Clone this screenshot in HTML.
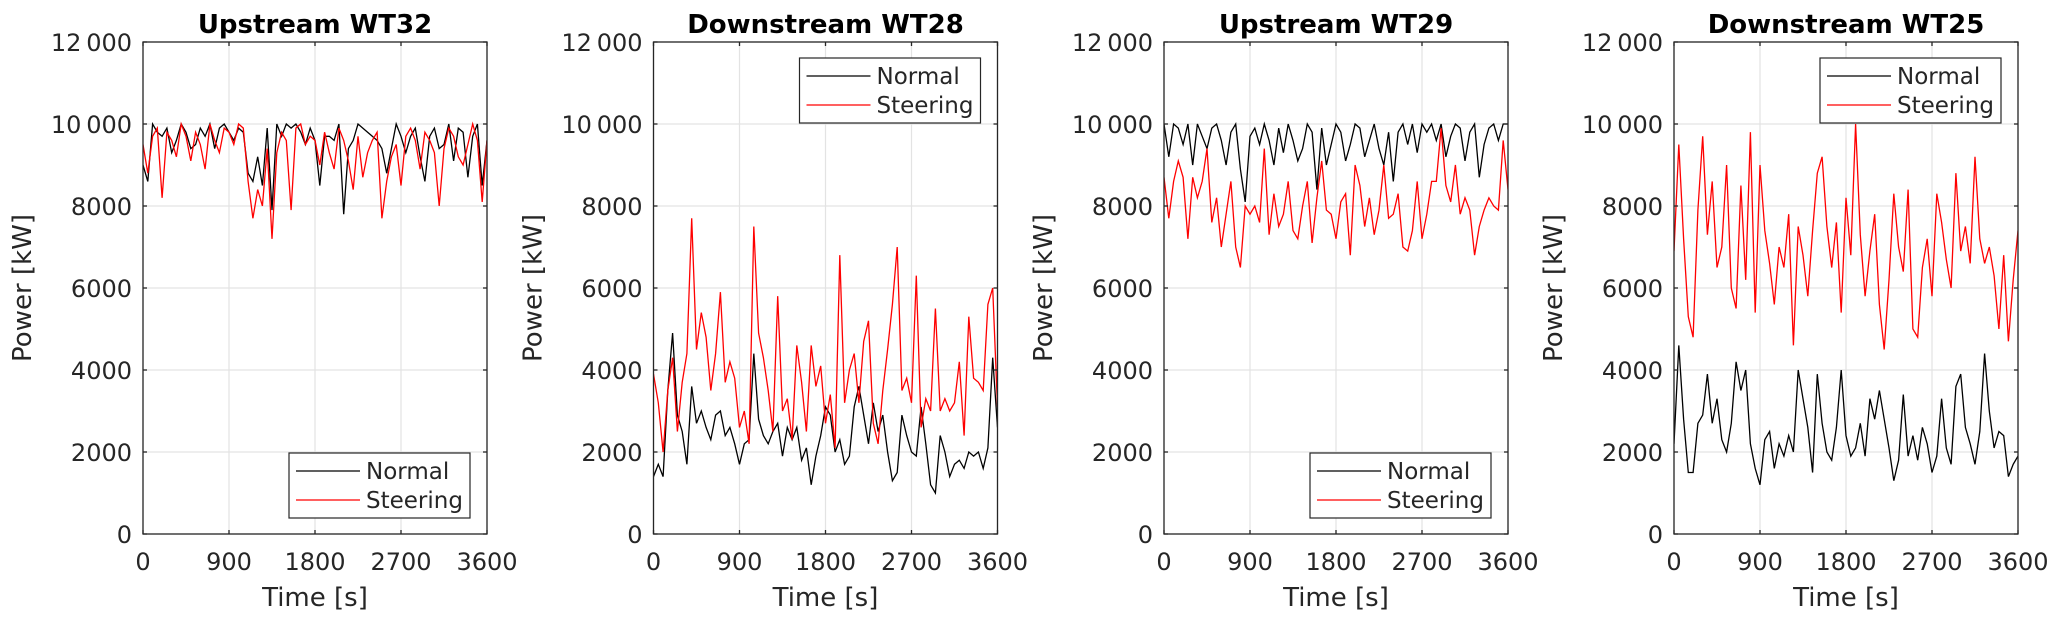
<!DOCTYPE html>
<html><head><meta charset="utf-8"><style>
body{margin:0;background:#fff;}
svg text{font-family:"DejaVu Sans","Liberation Sans",sans-serif;fill:#262626;}
</style></head><body>
<svg id="fig" width="2067" height="620" xmlns="http://www.w3.org/2000/svg"></svg>
<script>
const xTicks=[0,900,1800,2700,3600];
const yTicks=[0,2000,4000,6000,8000,10000,12000];
const yTickLabels=["0","2000","4000","6000","8000","10\u2009000","12\u2009000"];
const titles=["Upstream WT32","Downstream WT28","Upstream WT29","Downstream WT25"];
const legendPos=["bottom","top","bottom","top"];
const wt32Normal=[9000,8600,10000,9800,9700,9900,9300,9600,10000,9800,9400,9500,9900,9700,10000,9400,9900,10000,9800,9600,9900,9800,8800,8600,9200,8500,9900,7900,10000,9700,10000,9900,10000,9800,9500,9900,9600,8500,9700,9700,9600,10000,7800,9400,9600,10000,9900,9800,9700,9600,9400,8800,9400,10000,9700,9300,9700,9900,9200,8600,9700,9900,9400,9500,10000,9100,9900,9800,8700,9700,10000,8500,9600];
const wt32Steering=[9500,8800,9700,9900,8200,9800,9600,9200,10000,9700,9100,9800,9500,8900,10000,9600,9300,9900,9800,9500,10000,9900,8600,7700,8400,8000,9400,7200,9300,9800,9600,7900,9900,10000,9500,9700,9600,9000,9800,9300,8900,9900,9600,9100,8400,9700,8700,9300,9600,9800,7700,8600,9200,9500,8500,9700,9900,9600,8900,9800,9600,9300,8000,9400,9900,9700,9200,9000,9500,10000,9600,8100,9600];
const wt28Normal=[1400,1700,1400,3500,4900,2900,2500,1700,3600,2700,3000,2600,2300,2900,3000,2400,2600,2200,1700,2200,2300,4400,2800,2400,2200,2500,2700,1900,2600,2300,2600,1800,2100,1200,1900,2400,3100,2900,2000,2300,1700,1900,3100,3600,2900,2200,3200,2500,2900,2000,1300,1500,2900,2400,2000,1900,3100,2200,1200,1000,2400,2000,1400,1700,1800,1600,2000,1900,2000,1600,2100,4300,2600];
const wt28Steering=[3900,3200,2000,3500,4300,2500,3700,4400,7700,4500,5400,4800,3500,4400,5900,3700,4200,3800,2600,3000,2200,7500,4900,4300,3500,2500,5800,3000,3300,2300,4600,3700,2500,4600,3600,4100,2700,3400,2100,6800,3200,4000,4400,3200,4700,5200,2700,2200,3500,4500,5600,7000,3500,3800,3200,6300,2600,3300,3000,5500,3000,3300,3000,3200,4200,2400,5300,3800,3700,3500,5600,6000,3100];
const wt29Normal=[10000,9200,10000,9900,9500,10000,9000,10000,9700,9400,9900,10000,9600,9000,9800,10000,8900,8100,9700,9900,9500,10000,9600,9000,9900,9300,10000,9600,9100,9400,10000,9800,8400,9900,9000,9500,10000,9800,9100,9500,10000,9900,9200,9600,10000,9400,9000,9800,8600,9800,10000,9500,10000,9300,10000,9800,10000,9600,10000,9200,9700,10000,9900,9100,9800,10000,8700,9500,9900,10000,9600,10000,10000];
const wt29Steering=[8700,7700,8600,9100,8700,7200,8700,8200,8600,9400,7600,8200,7000,7800,8600,7000,6500,8000,7800,8000,7600,9400,7300,8300,7500,7800,8600,7400,7200,8000,8600,7100,8200,9100,7900,7800,7200,8100,8300,6800,9000,8500,7500,8200,7300,7900,9000,7700,7800,8300,7000,6900,7400,8600,7200,7800,8600,8600,9900,8500,8100,9000,7800,8200,7900,6800,7500,7900,8200,8000,7900,9600,8400];
const wt25Normal=[2200,4600,2800,1500,1500,2700,2900,3900,2700,3300,2300,2000,2700,4200,3500,4000,2200,1600,1200,2300,2500,1600,2200,1900,2400,2000,4000,3300,2600,1500,3900,2700,2000,1800,2600,4000,2400,1900,2100,2700,1900,3300,2800,3500,2800,2100,1300,1800,3400,1900,2400,1800,2600,2200,1500,1900,3300,2100,1700,3600,3900,2600,2200,1700,2500,4400,3000,2100,2500,2400,1400,1700,1900];
const wt25Steering=[6900,9500,7200,5300,4800,7900,9700,7300,8600,6500,7000,9000,6000,5500,8500,6200,9800,5400,9000,7400,6600,5600,7000,6500,7800,4600,7500,6800,5800,7400,8800,9200,7500,6500,7600,5400,8200,6800,10000,7300,5800,6900,7800,5600,4500,6200,8300,7000,6400,8400,5000,4800,6500,7200,5800,8300,7600,6700,6000,8800,6900,7500,6600,9200,7200,6600,7000,6300,5000,6800,4700,6200,7400];
const normals=[wt32Normal,wt28Normal,wt29Normal,wt25Normal];
const steerings=[wt32Steering,wt28Steering,wt29Steering,wt25Steering];

const NS="http://www.w3.org/2000/svg";
const svg=document.getElementById('fig');
const lefts=[143,653.5,1164,1674], W=344, TOP=42, BOT=534;
function mk(tag,attrs,parent,text){const e=document.createElementNS(NS,tag);for(const k in attrs)e.setAttribute(k,attrs[k]);if(text!==undefined)e.textContent=text;(parent||svg).appendChild(e);return e;}
for(let p=0;p<4;p++){
  const L=lefts[p];
  const xs=t=>L+t/3600*W;
  const ys=v=>BOT-v/12000*(BOT-TOP);
  const g=mk('g',{});
  
  
  const defs=mk('defs',{},g);
  const cp=mk('clipPath',{id:'clip'+p},defs);
  mk('rect',{x:L,y:TOP,width:W,height:BOT-TOP},cp);
  xTicks.forEach(t=>{
    const l=mk('line',{x1:xs(t),x2:xs(t),y1:TOP,y2:BOT,stroke:'#e3e3e3','stroke-width':1.2},g);
    
    
  });
  yTicks.forEach(v=>{
    const l=mk('line',{x1:L,x2:L+W,y1:ys(v),y2:ys(v),stroke:'#e3e3e3','stroke-width':1.2},g);
    
    
  });
  [[normals[p],'#000'],[steerings[p],'#ff0000']].forEach(([arr,c],k)=>{
    const d=arr.map((v,i)=>(i?'L':'M')+xs(i*3600/(arr.length-1)).toFixed(1)+','+ys(v).toFixed(1)).join('');
    const path=mk('path',{d:d,fill:'none',stroke:c,'stroke-width':1.3,'clip-path':'url(#clip'+p+')'},g);
    
    
  });
  const box=mk('rect',{x:L,y:TOP,width:W,height:BOT-TOP,fill:'none',stroke:'#262626','stroke-width':1.3},g);
  
  
  xTicks.forEach(t=>{
    mk('line',{x1:xs(t),x2:xs(t),y1:BOT,y2:BOT-4,stroke:'#262626','stroke-width':1.3},g);
    mk('line',{x1:xs(t),x2:xs(t),y1:TOP,y2:TOP+4,stroke:'#262626','stroke-width':1.3},g);
    const tx=mk('text',{x:xs(t),y:570,'font-size':24,'text-anchor':'middle'},g,String(t));
    
    
  });
  yTicks.forEach((v,i)=>{
    mk('line',{x1:L,x2:L+4,y1:ys(v),y2:ys(v),stroke:'#262626','stroke-width':1.3},g);
    mk('line',{x1:L+W,x2:L+W-4,y1:ys(v),y2:ys(v),stroke:'#262626','stroke-width':1.3},g);
    const tx=mk('text',{x:L-11,y:ys(v)+9,'font-size':24,'text-anchor':'end'},g,yTickLabels[i]);
    
    
  });
  const ti=mk('text',{x:L+W/2,y:33,'font-size':26,'font-weight':'bold','text-anchor':'middle',style:'fill:#000'},g,titles[p]);
  
  
  const xl=mk('text',{x:L+W/2,y:606,'font-size':26,'text-anchor':'middle'},g,'Time [s]');
  
  
  const yc=L-112;
  const yl=mk('text',{x:yc,y:288,'font-size':26,'text-anchor':'middle',transform:'rotate(-90 '+yc+' 288)'},g,'Power [kW]');
  
  
  const lw=181,lh=65,lx=L+W-17-lw,ly=legendPos[p]==='top'?TOP+16:BOT-16-lh;
  const lg=mk('g',{},g);
  
  
  mk('rect',{x:lx,y:ly,width:lw,height:lh,fill:'#fff',stroke:'#262626','stroke-width':1.2},lg);
  mk('line',{x1:lx+7,x2:lx+71,y1:ly+18,y2:ly+18,stroke:'#000','stroke-width':1.3},lg);
  mk('line',{x1:lx+7,x2:lx+71,y1:ly+47,y2:ly+47,stroke:'#ff0000','stroke-width':1.3},lg);
  const t1=mk('text',{x:lx+77,y:ly+26,'font-size':23},lg,'Normal');
  
  
  const t2=mk('text',{x:lx+77,y:ly+55,'font-size':23},lg,'Steering');
  
  
}
</script>
</body></html>
